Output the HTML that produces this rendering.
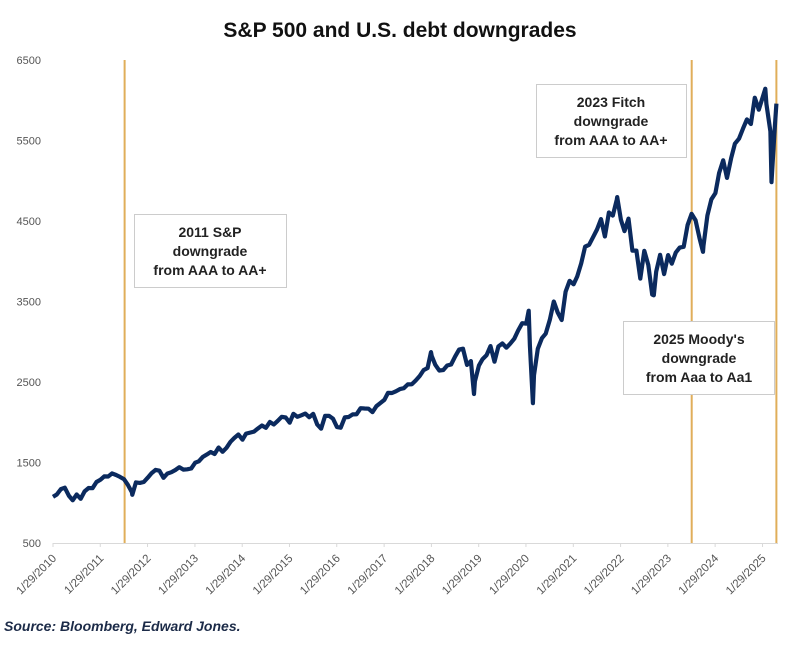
<!DOCTYPE html>
<html><head><meta charset="utf-8"><style>
body{margin:0;background:#fff;}
svg{display:block;font-family:"Liberation Sans",sans-serif;}
</style></head><body>
<svg width="799" height="646" viewBox="0 0 799 646">
<text x="400" y="37" text-anchor="middle" font-size="21" font-weight="bold" fill="#111">S&amp;P 500 and U.S. debt downgrades</text>
<g id="yaxis"></g>
<g id="xaxis"></g>
<g id="events"></g>
<path id="line" fill="none" stroke="#0b2a5e" stroke-width="4.2" stroke-linejoin="round"/>
<g>
<rect x="134.5" y="214.5" width="152" height="73" fill="#fff" stroke="#ccc"/>
<text x="210" y="237" text-anchor="middle" font-size="14" font-weight="bold" fill="#222">2011 S&amp;P</text>
<text x="210" y="256" text-anchor="middle" font-size="14" font-weight="bold" fill="#222">downgrade</text>
<text x="210" y="275" text-anchor="middle" font-size="14" font-weight="bold" fill="#222">from AAA to AA+</text>
</g>
<g>
<rect x="536.5" y="84.5" width="150" height="73" fill="#fff" stroke="#ccc"/>
<text x="611" y="107" text-anchor="middle" font-size="14" font-weight="bold" fill="#222">2023 Fitch</text>
<text x="611" y="126" text-anchor="middle" font-size="14" font-weight="bold" fill="#222">downgrade</text>
<text x="611" y="145" text-anchor="middle" font-size="14" font-weight="bold" fill="#222">from AAA to AA+</text>
</g>
<g>
<rect x="623.5" y="321.5" width="151" height="73" fill="#fff" stroke="#ccc"/>
<text x="699" y="344" text-anchor="middle" font-size="14" font-weight="bold" fill="#222">2025 Moody's</text>
<text x="699" y="363" text-anchor="middle" font-size="14" font-weight="bold" fill="#222">downgrade</text>
<text x="699" y="382" text-anchor="middle" font-size="14" font-weight="bold" fill="#222">from Aaa to Aa1</text>
</g>
<text x="4" y="631" font-size="14" font-weight="bold" font-style="italic" fill="#1c2b48">Source: Bloomberg, Edward Jones.</text>
</svg>
<script>
const monthly=[1074,1104,1169,1187,1089,1031,1102,1049,1141,1183,1181,1258,
1286,1327,1326,1364,1345,1321,1292,1219,1131,1253,1247,1258,
1312,1366,1408,1398,1310,1362,1379,1407,1441,1412,1416,1426,
1498,1515,1569,1598,1631,1606,1686,1633,1682,1757,1806,1848,
1783,1859,1872,1884,1924,1960,1931,2003,1972,2018,2068,2059,
1995,2105,2068,2086,2107,2063,2104,1972,1920,2079,2080,2044,
1940,1932,2060,2065,2097,2099,2174,2171,2168,2126,2199,2239,
2279,2364,2363,2384,2412,2423,2470,2472,2519,2575,2648,2674,
2824,2714,2641,2648,2705,2718,2816,2902,2914,2712,2760,2507,
2704,2784,2834,2946,2752,2942,2980,2926,2977,3038,3141,3231,
3226,2954,2585,2912,3044,3100,3271,3500,3363,3270,3622,3756,
3714,3811,3973,4181,4204,4298,4395,4523,4308,4605,4567,4766,
4516,4374,4530,4132,4132,3785,4130,3955,3586,3872,4080,3840,
4077,3970,4109,4169,4180,4450,4589,4508,4288,4194,4568,4770,
4846,5096,5254,5036,5278,5460,5522,5648,5762,5705,6032,5882,
6041,5955,5612,5569];
const extraDates=["2011-10-03","2018-01-26","2018-12-24","2020-02-19","2020-03-23","2022-01-03","2022-10-12","2023-07-31","2023-10-27","2025-02-19","2025-04-08","2025-05-16"];
const extraValues=[1099,2872,2351,3386,2237,4797,3577,4589,4117,6144,4983,5958];
const yTicks=[500,1500,2500,3500,4500,5500,6500];
const xTickLabels=["1/29/2010","1/29/2011","1/29/2012","1/29/2013","1/29/2014","1/29/2015","1/29/2016","1/29/2017","1/29/2018","1/29/2019","1/29/2020","1/29/2021","1/29/2022","1/29/2023","1/29/2024","1/29/2025"];
const eventDates=["2011-08-05","2023-08-01","2025-05-16"];

const NS="http://www.w3.org/2000/svg";
const t0=Date.UTC(2010,0,29), YR=365.25*864e5;
function xOf(ms){return 53+(ms-t0)/YR*47.3;}
function yOf(v){return 543-(v-500)*0.0805;}
function parse(s){const p=s.split('-');return Date.UTC(+p[0],+p[1]-1,+p[2]);}
function mk(tag,attrs,parent){const e=document.createElementNS(NS,tag);for(const k in attrs)e.setAttribute(k,attrs[k]);parent.appendChild(e);return e;}

const ya=document.getElementById('yaxis');
yTicks.forEach(v=>{const t=mk('text',{x:41,y:yOf(v)+4,'text-anchor':'end','font-size':11,fill:'#555'},ya);t.textContent=v;

});
const xa=document.getElementById('xaxis');
const base=mk('line',{x1:53,x2:778,y1:543.5,y2:543.5,stroke:'#d9d9d9','stroke-width':1},xa);


xTickLabels.forEach(l=>{const p=l.split('/');const ms=Date.UTC(+p[2],+p[0]-1,+p[1]);const x=xOf(ms);
mk('line',{x1:x,x2:x,y1:543,y2:547,stroke:'#d9d9d9'},xa);
const t=mk('text',{x:0,y:0,'text-anchor':'end','font-size':11.5,fill:'#555',transform:`translate(${x+4},${559}) rotate(-45)`},xa);t.textContent=l;

});
const ev=document.getElementById('events');
eventDates.forEach(d=>{const x=xOf(parse(d));const l=mk('line',{x1:x,x2:x,y1:60,y2:543,stroke:'#e0ae5a','stroke-width':2},ev);

});

const pts=[];
monthly.forEach((v,i)=>{const y=2010+Math.floor(i/12),m=i%12;const ms=i===0?t0:Date.UTC(y,m+1,0);pts.push([ms,v]);});
extraDates.forEach((d,i)=>pts.push([parse(d),extraValues[i]]));
pts.sort((a,b)=>a[0]-b[0]);
document.getElementById('line').setAttribute('d',pts.map((p,i)=>(i?'L':'M')+xOf(p[0]).toFixed(1)+' '+yOf(p[1]).toFixed(1)).join(''));
</script>
</body></html>
